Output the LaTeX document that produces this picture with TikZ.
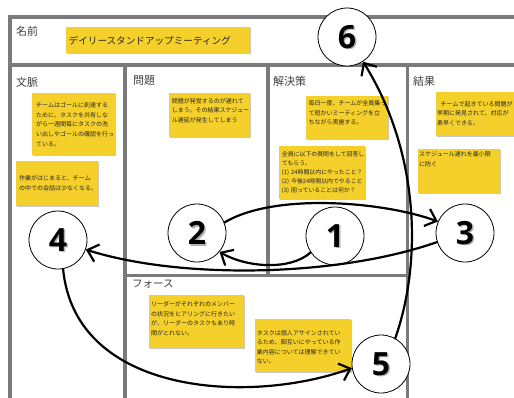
\documentclass[tikz,border=0pt]{standalone}
\usepackage{fontspec}
\newfontfamily\jp{Noto Sans CJK JP}
\newfontfamily\numfont{Open Sans}
\usetikzlibrary{arrows.meta}
\definecolor{noteyellow}{RGB}{245,208,42}
\definecolor{gridgray}{RGB}{122,122,122}
\definecolor{txtdark}{RGB}{38,38,38}
\newcommand\shadownum[1]{\rlap{\smash{\kern1.5pt\raisebox{-1.5pt}{\color{black!30}#1}}}#1}
\tikzset{
  gridline/.style={draw=gridgray, line width=3.5pt, line cap=rect},
  notebox/.style={fill=noteyellow, draw=none},
  noteshadow/.style={fill=black!22, draw=none},
  notetext/.style={anchor=base west, inner sep=0pt, text width=120pt, align=left,
    font=\jp\fontsize{6}{9.6}\selectfont, text=txtdark},
  celllabel/.style={anchor=west, inner sep=0pt, font=\jp\fontsize{11}{13}\selectfont, text=black!75},
  numcircle/.style={circle, draw=black, line width=0.8pt, fill=white, minimum size=58pt,
    inner sep=0pt, font=\numfont\bfseries\fontsize{32}{32}\selectfont},
  sketch/.style={draw=black, line width=2.2pt, line cap=round, line join=round,
    -{Straight Barb[length=10pt,width=18pt]}},
}
\begin{document}
\begin{tikzpicture}[x=1pt,y=-1pt]
\useasboundingbox (0,0) rectangle (514,397);
\clip (0,0) rectangle (514,397);
\fill[white] (0,0) rectangle (514,397);

% grid
\draw[gridline] (10,17) -- (520,17);
\draw[gridline] (10,65) -- (520,65);
\draw[gridline] (10,17) -- (10,402);
\draw[gridline] (125,65) -- (125,402);
\draw[gridline] (268,65) -- (268,275.5);
\draw[gridline] (407.5,65) -- (407.5,402);
\draw[gridline] (125,275.5) -- (407.5,275.5);

% cell labels
\node[celllabel] (lname) at (16,31.5) {名前};
\node[celllabel] (lctx) at (16,82) {文脈};
\node[celllabel] (lprob) at (133,81) {問題};
\node[celllabel] (lsol) at (273,81) {解決策};
\node[celllabel] (lres) at (413,81) {結果};
\node[celllabel, font=\jp\fontsize{10.5}{12}\selectfont] (lforce) at (132,284) {フォース};

% name note
\fill[noteshadow] (66.8,28.2) rectangle (250.8,54.2);
\fill[notebox] (66,27) rectangle (250,53);
\node[anchor=base west, inner sep=0pt, font=\jp\fontsize{9.6}{11}\selectfont, text=txtdark] (tname) at (68.5,44.3) {デイリースタンドアップミーティング};

% context notes
\fill[noteshadow] (32.8,94.2) rectangle (115.8,156.2);
\fill[notebox] (32,93) rectangle (115,155);
\node[notetext] (tctx1) at (36,107.6) {チームはゴールに到達する\\ために、タスクを共有しな\\がら一週間毎にタスクの洗\\い出しやゴールの確認を行っ\\ている。};

\fill[noteshadow] (16.8,162.2) rectangle (98.8,207.2);
\fill[notebox] (16,161) rectangle (98,206);
\node[notetext] (tctx2) at (19,180.6) {作業がはじまると、チーム\\の中での会話は少なくなる。};

% problem note
\fill[noteshadow] (169.8,94.2) rectangle (250.8,138.2);
\fill[notebox] (169,93) rectangle (250,137);
\node[notetext] (tprob) at (171.7,103) {問題が発覚するのが遅れて\\しまう。その結果スケジュー\\ル遅延が発生してしまう};

% solution notes
\fill[noteshadow] (306.8,97.2) rectangle (388.8,140.2);
\fill[notebox] (306,96) rectangle (388,139);
\node[notetext] (tsol1) at (308.3,105.6) {毎日一度、チームが全員集っ\\て短かいミーティングを立\\ちながら実施する。};

\fill[noteshadow] (279.8,147.2) rectangle (365.8,200.2);
\fill[notebox] (279,146) rectangle (365,199);
\node[notetext, font=\jp\fontsize{5.9}{9}\selectfont] (tsol2) at (281.7,156.6) {全員に以下の質問をして回答し\\てもらう。\\(1) 24時間以内にやったこと？\\(2) 今後24時間以内でやること\\(3) 困っていることは何か？};

% result notes
\fill[noteshadow] (436.8,93.2) rectangle (530,137.2);
\fill[notebox] (436,92) rectangle (530,136);
\node[notetext] (tres1) at (437,106.3) {\hspace{3.5pt}チームで起きている問題が\\早期に発見されて、対応が\\素早くできる。};

\fill[noteshadow] (418.8,150.2) rectangle (500.8,194.2);
\fill[notebox] (418,149) rectangle (500,193);
\node[notetext] (tres2) at (419,156.6) {スケジュール遅れを最小限\\に防ぐ};

% force notes
\fill[noteshadow] (149.8,296.2) rectangle (244.8,349.2);
\fill[notebox] (149,295) rectangle (244,348);
\node[notetext] (tfor1) at (151,306.6) {リーダーがそれぞれのメンバー\\の状況をヒアリングに行きたい\\が、リーダーのタスクもあり時\\間がとれない。};

\fill[noteshadow] (255.8,320.2) rectangle (351.8,373.2);
\fill[notebox] (255,319) rectangle (351,372);
\node[notetext] (tfor2) at (256.7,335) {タスクは個人アサインされてい\\るため、御互いにやっている作\\業内容については理解できてい\\ない。};

% numbered circles
\node[numcircle] (c1) at (335,236) {\shadownum{1}};
\node[numcircle] (c2) at (197,233) {\shadownum{2}};
\node[numcircle] (c3) at (465,233) {\shadownum{3}};
\node[numcircle] (c4) at (58,240) {\shadownum{4}};
\node[numcircle] (c5) at (381,364) {\shadownum{5}};
\node[numcircle] (c6) at (347,37) {\shadownum{6}};

% sketched arrows
\draw[sketch] (c1.214) .. controls +(-20,18) and +(28,16) .. (c2.-40);
\draw[sketch] (c2.21) .. controls +(50,-30) and +(-55,-20) .. (c3.157);
\draw[sketch] (c3.198) .. controls +(-100,35) and +(95,30) .. (c4.-19);
\draw[sketch] (c4.-80) .. controls +(12,126) and +(-103,37) .. (c5.188);
\draw[sketch] (c5.61) .. controls +(28,-80) and +(55,88) .. (c6.-57);
\end{tikzpicture}
\end{document}
